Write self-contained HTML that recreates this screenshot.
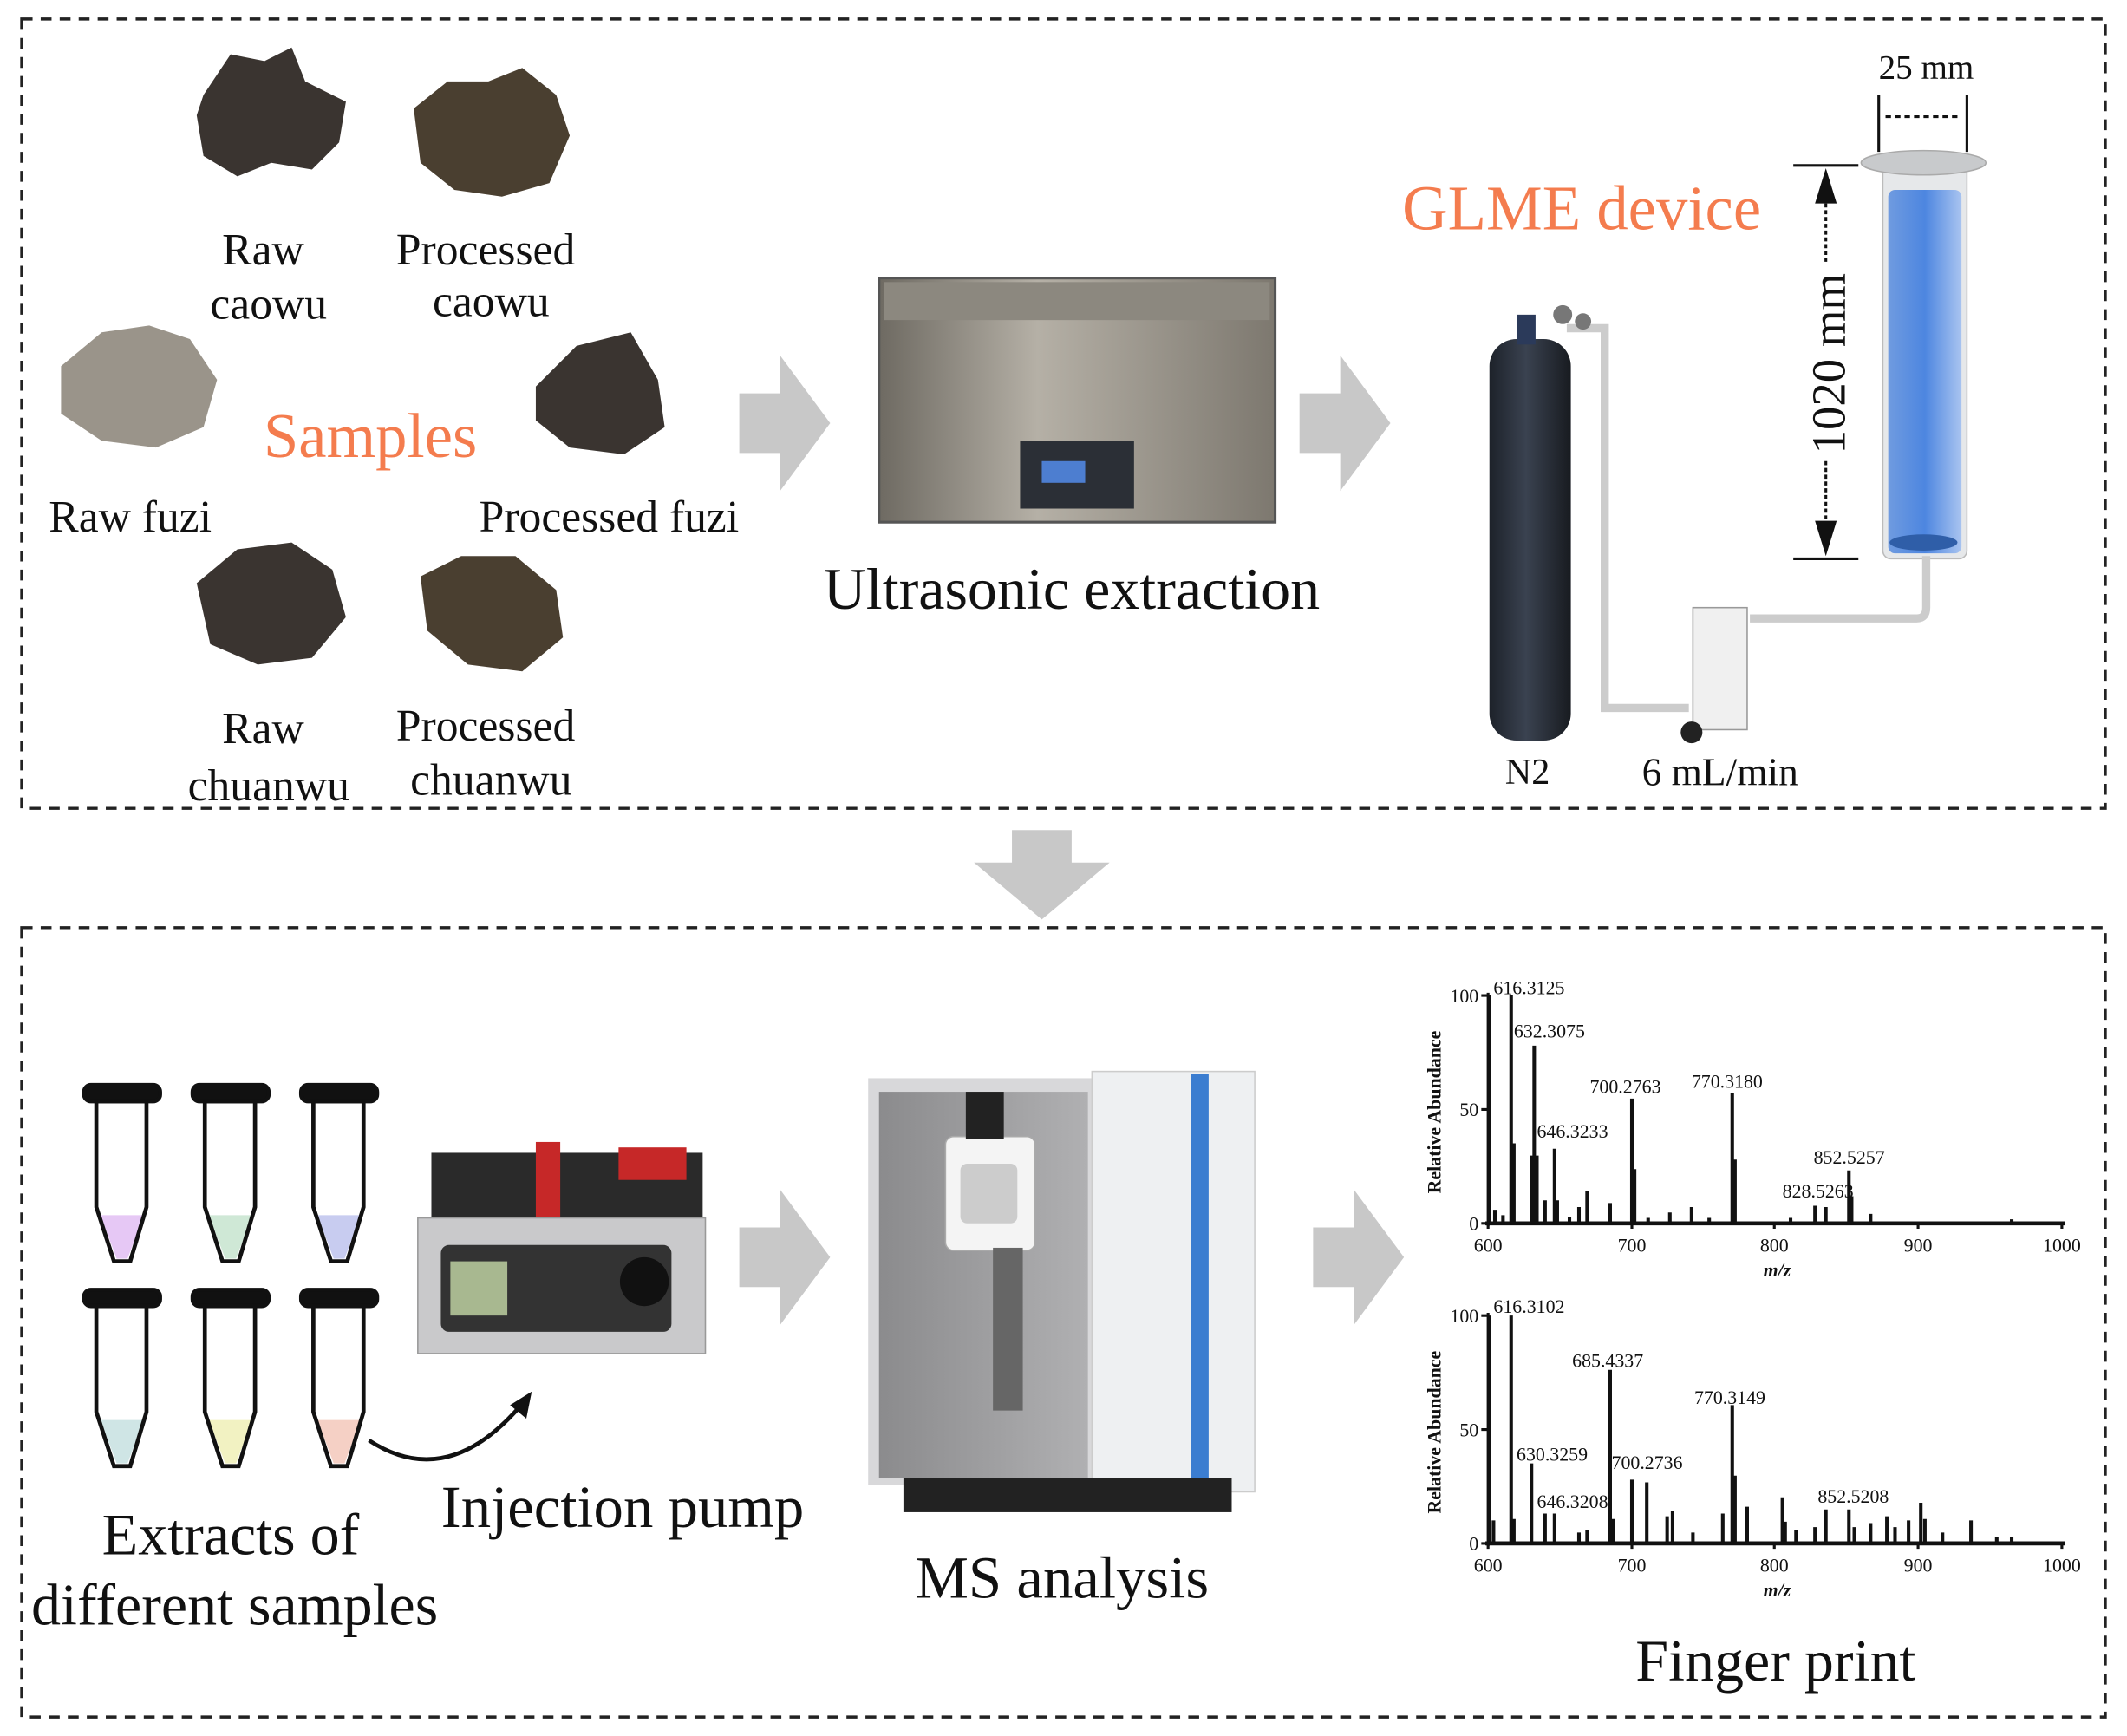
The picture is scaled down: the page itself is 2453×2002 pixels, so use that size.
<!DOCTYPE html>
<html><head><meta charset="utf-8"><style>
html,body{margin:0;padding:0;background:#fff;}
svg{display:block;}
text{font-family:"Liberation Serif",serif;}
</style></head><body>
<svg width="2453" height="2002" viewBox="0 0 1568 1280" preserveAspectRatio="none" xmlns="http://www.w3.org/2000/svg">
<defs>
<linearGradient id="bl" x1="0" x2="1"><stop offset="0" stop-color="#6f9be0"/><stop offset="0.5" stop-color="#4d86e0"/><stop offset="1" stop-color="#a9c4f0"/></linearGradient>
<linearGradient id="steel" x1="0" x2="1"><stop offset="0" stop-color="#6e6a62"/><stop offset="0.4" stop-color="#b5b0a6"/><stop offset="1" stop-color="#7d786f"/></linearGradient>
<linearGradient id="tank" x1="0" x2="1"><stop offset="0" stop-color="#1d222a"/><stop offset="0.45" stop-color="#3a4250"/><stop offset="1" stop-color="#181b20"/></linearGradient>
<linearGradient id="ms" x1="0" x2="1"><stop offset="0" stop-color="#8b8b8d"/><stop offset="1" stop-color="#b0b0b2"/></linearGradient>
</defs>
<rect width="1568" height="1280" fill="#fff"/>
<rect x="16" y="14" width="1536" height="582" fill="none" stroke="#222" stroke-width="2.2" stroke-dasharray="8,6"/>
<rect x="16" y="684" width="1536" height="582" fill="none" stroke="#222" stroke-width="2.2" stroke-dasharray="8,6"/>

<g fill="#c8c8c8">
<polygon points="545,290 575,290 575,262 612,312 575,362 575,334 545,334"/>
<polygon points="958,290 988,290 988,262 1025,312 988,362 988,334 958,334"/>
<polygon points="746,612 790,612 790,636 818,636 768,678 718,636 746,636"/>
<polygon points="545,905 575,905 575,877 612,927 575,977 575,949 545,949"/>
<polygon points="968,905 998,905 998,877 1035,927 998,977 998,949 968,949"/>
</g>

<g fill="#3a3430">
<path d="M150,70 l20,-30 25,5 20,-10 10,25 30,15 -5,30 -20,20 -30,-5 -25,10 -25,-15 -5,-30z"/>
<path d="M305,80 l25,-20 30,0 25,-10 25,20 10,30 -15,35 -35,10 -35,-5 -25,-20z" fill="#4a3f30"/>
<path d="M45,270 l30,-25 35,-5 30,10 20,30 -10,35 -35,15 -40,-5 -30,-20z" fill="#9a948a"/>
<path d="M395,285 l30,-30 40,-10 20,35 5,35 -30,20 -40,-5 -25,-20z"/>
<path d="M145,430 l30,-25 40,-5 30,20 10,35 -25,30 -40,5 -35,-15z"/>
<path d="M310,425 l30,-15 40,0 30,25 5,35 -30,25 -40,-5 -30,-25z" fill="#4a3f30"/>
</g>

<g font-size="33" fill="#111" text-anchor="middle">
<text x="194" y="195">Raw</text><text x="198" y="235">caowu</text>
<text x="358" y="195">Processed</text><text x="362" y="233">caowu</text>
<text x="96" y="392">Raw fuzi</text>
<text x="449" y="392">Processed fuzi</text>
<text x="194" y="548">Raw</text><text x="198" y="590">chuanwu</text>
<text x="358" y="546">Processed</text><text x="362" y="586">chuanwu</text>
</g>
<text x="273" y="337" font-size="46.5" fill="#f47c4e" text-anchor="middle">Samples</text>

<rect x="648" y="205" width="292" height="180" fill="url(#steel)" stroke="#555" stroke-width="2"/>
<rect x="652" y="208" width="284" height="28" fill="#8c887f"/>
<rect x="752" y="325" width="84" height="50" fill="#2b2f36"/>
<rect x="768" y="340" width="32" height="16" fill="#4d7ed0"/>
<text x="790" y="449" font-size="43.5" fill="#111" text-anchor="middle">Ultrasonic extraction</text>

<text x="1166" y="169" font-size="46.5" fill="#f47c4e" text-anchor="middle">GLME device</text>
<text x="1420" y="58" font-size="25" fill="#111" text-anchor="middle">25 mm</text>
<g stroke="#111" stroke-width="2" fill="none">
<line x1="1385" y1="70" x2="1385" y2="112"/><line x1="1450" y1="70" x2="1450" y2="112"/>
<line x1="1390" y1="86" x2="1445" y2="86" stroke-dasharray="4,3"/>
<line x1="1322" y1="122" x2="1370" y2="122"/><line x1="1322" y1="412" x2="1370" y2="412"/>
<line x1="1346" y1="135" x2="1346" y2="195" stroke-dasharray="3,2"/>
<line x1="1346" y1="340" x2="1346" y2="400" stroke-dasharray="3,2"/>
</g>
<polygon points="1346,124 1338,150 1354,150" fill="#111"/>
<polygon points="1346,410 1338,384 1354,384" fill="#111"/>
<text transform="translate(1360,268) rotate(-90)" font-size="35" fill="#111" text-anchor="middle">1020 mm</text>
<rect x="1388" y="120" width="62" height="292" rx="6" fill="#e6e8ea" stroke="#bbb"/>
<rect x="1392" y="140" width="54" height="268" rx="5" fill="url(#bl)"/>
<ellipse cx="1418" cy="120" rx="46" ry="9" fill="#c8cacc" stroke="#aaa"/>
<ellipse cx="1418" cy="400" rx="25" ry="6" fill="#2f5ea8"/>
<path d="M1155,242 H1183 V522 H1245" fill="none" stroke="#ccc" stroke-width="6"/>
<path d="M1290,456 H1413 Q1420,456 1420,448 V410" fill="none" stroke="#ccc" stroke-width="6"/>
<rect x="1248" y="448" width="40" height="90" fill="#f0f0f0" stroke="#999"/>
<circle cx="1247" cy="540" r="8" fill="#222"/>
<rect x="1098" y="250" width="60" height="296" rx="20" fill="url(#tank)"/>
<rect x="1118" y="232" width="14" height="22" fill="#2b3a5a"/>
<circle cx="1152" cy="232" r="7" fill="#777"/><circle cx="1167" cy="237" r="6" fill="#777"/>
<text x="1126" y="578" font-size="27" fill="#111" text-anchor="middle">N2</text>
<text x="1268" y="579" font-size="29" fill="#111" text-anchor="middle">6 mL/min</text>

<g fill="none">
<path d="M74,896 L86,928 H94 L106,896 Z" fill="#e6c8f5"/>
<path d="M154,896 L166,928 H174 L186,896 Z" fill="#cfe8d6"/>
<path d="M234,896 L246,928 H254 L266,896 Z" fill="#c8ccf0"/>
<path d="M74,1047 L86,1079 H94 L106,1047 Z" fill="#cfe5e5"/>
<path d="M154,1047 L166,1079 H174 L186,1047 Z" fill="#f2f2c2"/>
<path d="M234,1047 L246,1079 H254 L266,1047 Z" fill="#f5d0c5"/>
</g>
<g stroke="#111" stroke-width="3">
<path d="M71,812 V890 L84,930 H96 L108,890 V812 Z" fill="none"/><rect x="62" y="800" width="56" height="12" rx="5" fill="#111"/>
<path d="M151,812 V890 L164,930 H176 L188,890 V812 Z" fill="none"/><rect x="142" y="800" width="56" height="12" rx="5" fill="#111"/>
<path d="M231,812 V890 L244,930 H256 L268,890 V812 Z" fill="none"/><rect x="222" y="800" width="56" height="12" rx="5" fill="#111"/>
<path d="M71,963 V1041 L84,1081 H96 L108,1041 V963 Z" fill="none"/><rect x="62" y="951" width="56" height="12" rx="5" fill="#111"/>
<path d="M151,963 V1041 L164,1081 H176 L188,1041 V963 Z" fill="none"/><rect x="142" y="951" width="56" height="12" rx="5" fill="#111"/>
<path d="M231,963 V1041 L244,1081 H256 L268,1041 V963 Z" fill="none"/><rect x="222" y="951" width="56" height="12" rx="5" fill="#111"/>
</g>
<path d="M272,1062 Q330,1100 385,1035" fill="none" stroke="#111" stroke-width="3"/>
<polygon points="392,1026 376,1036 388,1046" fill="#111"/>

<rect x="318" y="850" width="200" height="50" fill="#2a2a2a"/>
<rect x="395" y="842" width="18" height="60" fill="#c62828"/>
<rect x="456" y="846" width="50" height="24" fill="#c62828"/>
<rect x="308" y="898" width="212" height="100" fill="#c9c9cb" stroke="#999"/>
<rect x="325" y="918" width="170" height="64" rx="6" fill="#333"/>
<rect x="332" y="930" width="42" height="40" fill="#a8b890"/>
<circle cx="475" cy="945" r="18" fill="#111"/>
<text x="459" y="1126" font-size="44" fill="#111" text-anchor="middle">Injection pump</text>
<text x="170" y="1146" font-size="43.5" fill="#111" text-anchor="middle">Extracts of</text>
<text x="173" y="1198" font-size="43.5" fill="#111" text-anchor="middle">different samples</text>

<rect x="640" y="795" width="165" height="300" fill="#d8d8da"/>
<rect x="648" y="805" width="154" height="285" fill="url(#ms)"/>
<rect x="805" y="790" width="120" height="310" fill="#eef0f2" stroke="#ccc"/>
<rect x="878" y="792" width="13" height="305" fill="#3b7dd0"/>
<rect x="666" y="1090" width="242" height="25" fill="#222"/>
<rect x="697" y="838" width="66" height="84" rx="6" fill="#f4f4f4" stroke="#aaa"/>
<rect x="708" y="858" width="42" height="44" rx="5" fill="#ccc"/>
<rect x="732" y="920" width="22" height="120" fill="#666"/>
<rect x="712" y="805" width="28" height="35" fill="#222"/>
<text x="783" y="1178" font-size="44" fill="#111" text-anchor="middle">MS analysis</text>

<g font-size="14" fill="#111">
<g stroke="#111" stroke-width="2" fill="none">
<line x1="1097" y1="732" x2="1097" y2="904"/><line x1="1095" y1="902" x2="1522" y2="902" stroke-width="3"/>
<path d="M1092,734h5M1092,818h5M1092,902h5"/>
<path d="M1097,902v4M1203,902v4M1308,902v4M1414,902v4M1520,902v4"/>
</g>
<g stroke="#111" stroke-width="2.6">
<path d="M1098,902V734M1114,902V734M1116,902V843M1129,902V852M1131,902V771M1133,902V852M1139,902V885M1146,902V847M1148,902V885M1164,902V890M1170,902V878M1187,902V887M1203,902V810M1205,902V862M1231,902V894M1247,902V890M1277,902V806M1279,902V855M1338,902V889M1346,902V890M1363,902V863M1365,902V882M1379,902V895M1483,902V899M1102,902V892M1108,902V896M1157,902V897M1215,902V898M1260,902V898M1320,902V898"/>
</g>
<text x="1090" y="739" text-anchor="end">100</text><text x="1090" y="823" text-anchor="end">50</text><text x="1090" y="907" text-anchor="end">0</text>
<text x="1097" y="923" text-anchor="middle">600</text><text x="1203" y="923" text-anchor="middle">700</text><text x="1308" y="923" text-anchor="middle">800</text><text x="1414" y="923" text-anchor="middle">900</text><text x="1520" y="923" text-anchor="middle">1000</text>
<text x="1310" y="941" text-anchor="middle" font-weight="bold" font-style="italic">m/z</text>
<text transform="translate(1062,820) rotate(-90)" text-anchor="middle" font-weight="bold" font-size="14">Relative Abundance</text>
<text x="1101" y="733">616.3125</text><text x="1116" y="765">632.3075</text><text x="1133" y="839">646.3233</text>
<text x="1172" y="806">700.2763</text><text x="1247" y="802">770.3180</text><text x="1337" y="858">852.5257</text><text x="1314" y="883">828.5263</text>
<g stroke="#111" stroke-width="2" fill="none">
<line x1="1097" y1="968" x2="1097" y2="1140"/><line x1="1095" y1="1138" x2="1522" y2="1138" stroke-width="3"/>
<path d="M1092,970h5M1092,1054h5M1092,1138h5"/>
<path d="M1097,1138v4M1203,1138v4M1308,1138v4M1414,1138v4M1520,1138v4"/>
</g>
<g stroke="#111" stroke-width="2.6">
<path d="M1098,1138V970M1114,1138V970M1101,1138V1121M1116,1138V1120M1129,1138V1079M1139,1138V1116M1146,1138V1116M1164,1138V1130M1170,1138V1128M1187,1138V1010M1189,1138V1120M1203,1138V1091M1214,1138V1093M1229,1138V1118M1233,1138V1114M1248,1138V1130M1270,1138V1116M1277,1138V1036M1279,1138V1088M1288,1138V1111M1314,1138V1104M1316,1138V1122M1324,1138V1128M1338,1138V1126M1346,1138V1113M1363,1138V1113M1367,1138V1126M1379,1138V1123M1391,1138V1118M1397,1138V1126M1407,1138V1121M1416,1138V1108M1419,1138V1120M1432,1138V1130M1453,1138V1121M1472,1138V1133M1483,1138V1133"/>
</g>
<text x="1090" y="975" text-anchor="end">100</text><text x="1090" y="1059" text-anchor="end">50</text><text x="1090" y="1143" text-anchor="end">0</text>
<text x="1097" y="1159" text-anchor="middle">600</text><text x="1203" y="1159" text-anchor="middle">700</text><text x="1308" y="1159" text-anchor="middle">800</text><text x="1414" y="1159" text-anchor="middle">900</text><text x="1520" y="1159" text-anchor="middle">1000</text>
<text x="1310" y="1177" text-anchor="middle" font-weight="bold" font-style="italic">m/z</text>
<text transform="translate(1062,1056) rotate(-90)" text-anchor="middle" font-weight="bold" font-size="14">Relative Abundance</text>
<text x="1101" y="968">616.3102</text><text x="1159" y="1008">685.4337</text><text x="1249" y="1035">770.3149</text>
<text x="1118" y="1077">630.3259</text><text x="1188" y="1083">700.2736</text><text x="1133" y="1112">646.3208</text><text x="1340" y="1108">852.5208</text>
</g>
<text x="1309" y="1239" font-size="43.5" fill="#111" text-anchor="middle">Finger print</text>
</svg>
</body></html>
